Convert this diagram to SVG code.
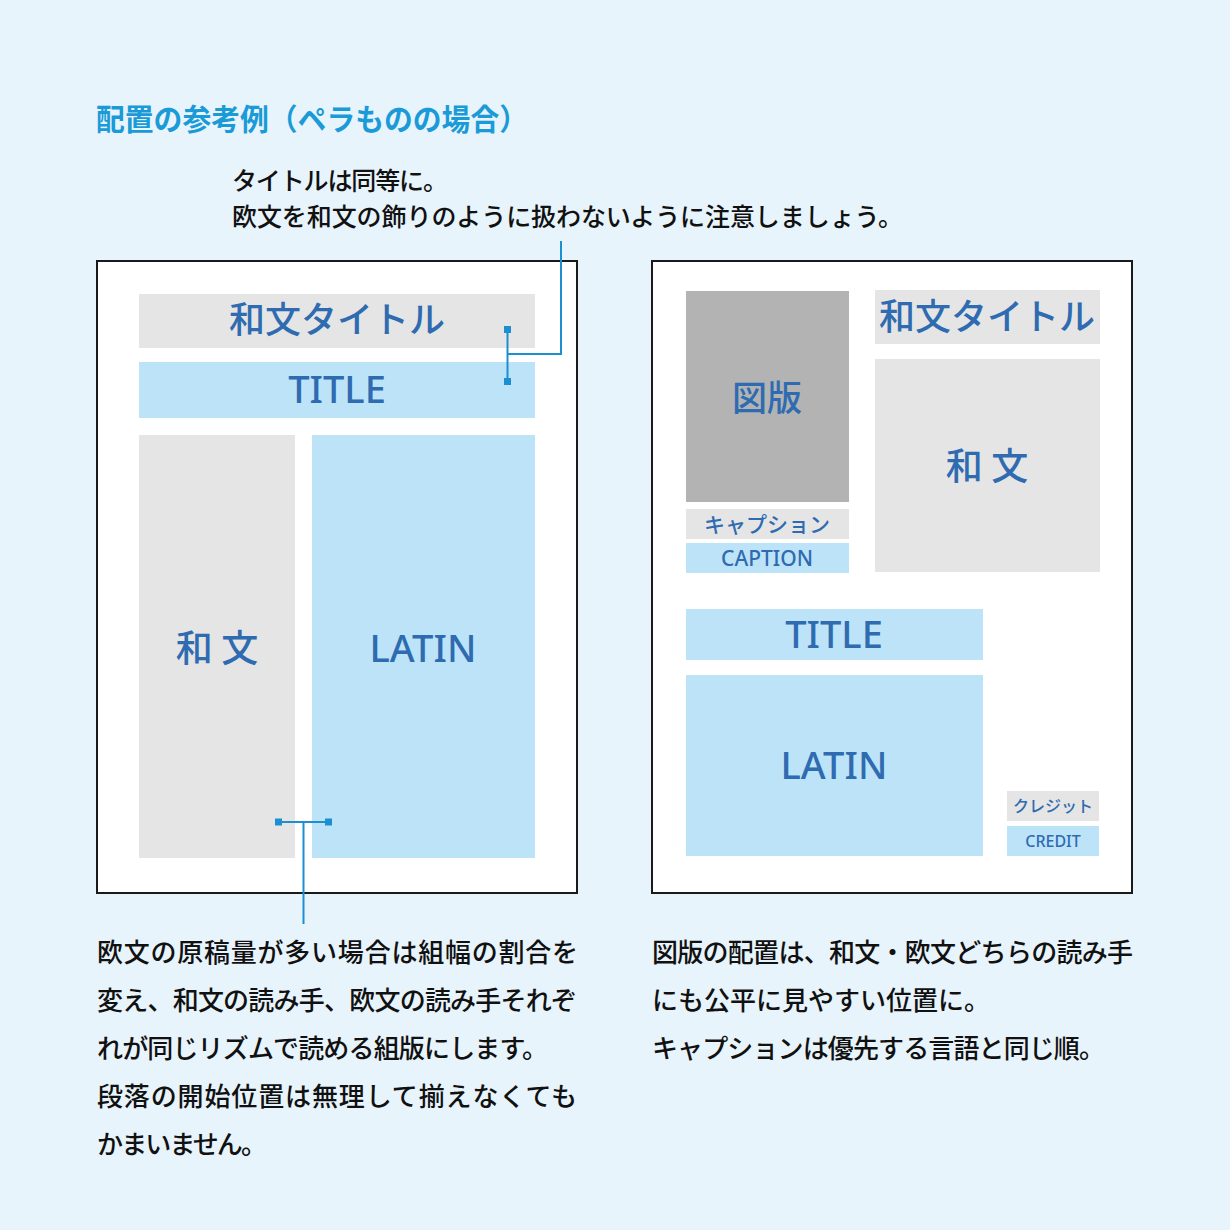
<svg xmlns="http://www.w3.org/2000/svg" width="1230" height="1230" viewBox="0 0 1230 1230">
<style>
.page{fill:#ffffff;stroke:#1a1a1a;stroke-width:2}
.g{fill:#e5e5e5}
.d{fill:#b3b3b3}
.b{fill:#bde3f8}
.jt{font-family:"Noto Sans CJK JP","Noto Sans",sans-serif;fill:#2e6bb0;text-anchor:middle;font-weight:500}
.lt{font-family:"Noto Sans","Open Sans",sans-serif;fill:#2e6bb0;text-anchor:middle;font-weight:500}
.body{font-family:"Noto Sans CJK JP",sans-serif;font-size:26px;fill:#111111;font-weight:500}
.top{font-size:25px}
.head{font-family:"Noto Sans CJK JP",sans-serif;font-size:30px;font-weight:bold;fill:#1a9bd7}
.conn{stroke:#1b8fcf;stroke-width:2;fill:none}
.sq{fill:#1b8fcf}
</style>
<rect x="0" y="0" width="1230" height="1230" fill="#e8f4fc"/>
<text class="head" x="96" y="130" textLength="432" lengthAdjust="spacingAndGlyphs">配置の参考例（ペラものの場合）</text>
<g id="note-top">
<text class="body top" x="232" y="190" textLength="216">タイトルは同等に。</text>
<text class="body top" x="232" y="226" textLength="671">欧文を和文の飾りのように扱わないように注意しましょう。</text>
</g>
<g id="page-left">
<rect class="page" x="97" y="261" width="480" height="632"/>
<g id="l-jtitle"><rect class="g" x="139" y="294" width="396" height="54"/><text class="jt" x="337" y="333" font-size="36">和文タイトル</text></g>
<g id="l-title"><rect class="b" x="139" y="362" width="396" height="56"/><text class="lt" x="337" y="403" font-size="38">TITLE</text></g>
<g id="l-wabun"><rect class="g" x="139" y="435" width="156" height="423"/><text class="jt" x="217" y="662" font-size="37">和 文</text></g>
<g id="l-latin"><rect class="b" x="312" y="435" width="223" height="423"/><text class="lt" x="423" y="662" font-size="38">LATIN</text></g>
</g>
<g id="page-right">
<rect class="page" x="652" y="261" width="480" height="632"/>
<g id="r-zuhan"><rect class="d" x="686" y="291" width="163" height="211"/><text class="jt" x="767" y="411" font-size="35">図版</text></g>
<g id="r-caption-j"><rect class="g" x="686" y="509" width="163" height="30"/><text class="jt" x="767" y="532" font-size="21">キャプション</text></g>
<g id="r-caption-e"><rect class="b" x="686" y="543" width="163" height="30"/><text class="lt" x="767" y="566" font-size="21">CAPTION</text></g>
<g id="r-jtitle"><rect class="g" x="875" y="290" width="225" height="54"/><text class="jt" x="987" y="330" font-size="36">和文タイトル</text></g>
<g id="r-wabun"><rect class="g" x="875" y="359" width="225" height="213"/><text class="jt" x="987" y="480" font-size="37">和 文</text></g>
<g id="r-title"><rect class="b" x="686" y="609" width="297" height="51"/><text class="lt" x="834" y="648" font-size="38">TITLE</text></g>
<g id="r-latin"><rect class="b" x="686" y="675" width="297" height="181"/><text class="lt" x="834" y="779" font-size="38">LATIN</text></g>
<g id="r-credit-j"><rect class="g" x="1007" y="791" width="92" height="30"/><text class="jt" x="1053" y="812" font-size="16">クレジット</text></g>
<g id="r-credit-e"><rect class="b" x="1007" y="826" width="92" height="30"/><text class="lt" x="1053" y="847" font-size="16">CREDIT</text></g>
</g>
<g id="connectors">
<path class="conn" d="M507.5 329.5 V381.5 M507.5 354 H561 V241"/>
<rect class="sq" x="504" y="326" width="7" height="7"/>
<rect class="sq" x="504" y="378" width="7" height="7"/>
<path class="conn" d="M278.5 822 H328.5 M303.5 822 V924"/>
<rect class="sq" x="275" y="818.5" width="7" height="7"/>
<rect class="sq" x="325" y="818.5" width="7" height="7"/>
</g>
<g id="note-left">
<text class="body" x="97" y="962" textLength="481">欧文の原稿量が多い場合は組幅の割合を</text>
<text class="body" x="97" y="1010" textLength="480">変え、和文の読み手、欧文の読み手それぞ</text>
<text class="body" x="97" y="1058" textLength="451">れが同じリズムで読める組版にします。</text>
<text class="body" x="97" y="1106" textLength="480">段落の開始位置は無理して揃えなくても</text>
<text class="body" x="97" y="1154" textLength="170">かまいません。</text>
</g>
<g id="note-right">
<text class="body" x="652" y="962" textLength="481">図版の配置は、和文・欧文どちらの読み手</text>
<text class="body" x="652" y="1010" textLength="338">にも公平に見やすい位置に。</text>
<text class="body" x="652" y="1058" textLength="453">キャプションは優先する言語と同じ順。</text>
</g>
</svg>
